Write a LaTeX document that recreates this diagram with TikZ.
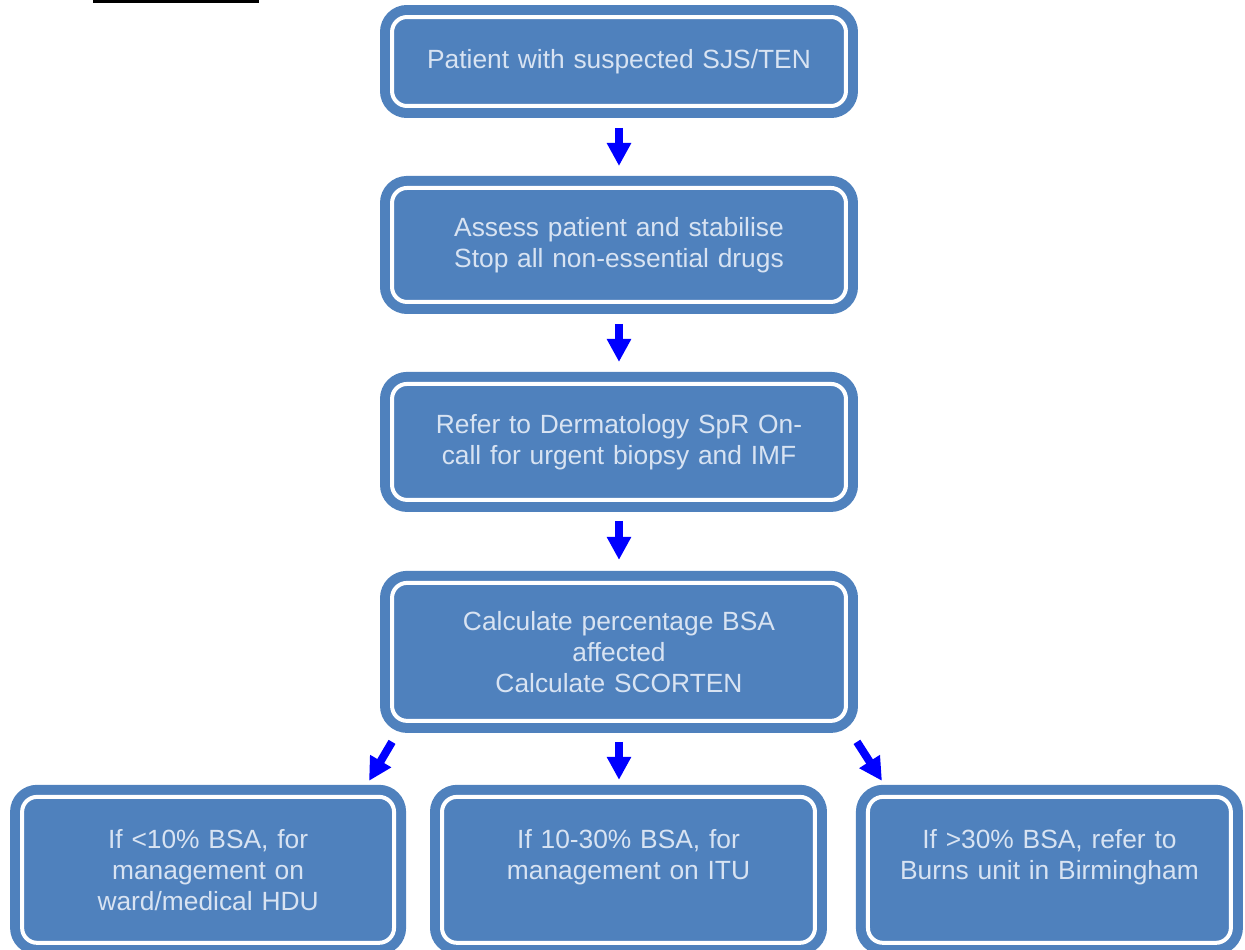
\documentclass[tikz,border=0pt]{standalone}
\usepackage{fontspec}
\setmainfont{Liberation Sans}
\usetikzlibrary{arrows.meta,positioning}
\definecolor{boxblue}{RGB}{79,129,189}
\definecolor{boxtext}{RGB}{216,227,242}
\tikzset{
flowbox/.style={
  rectangle,
  rounded corners=0.3cm,
  line width=0.2cm,
  draw=boxblue,
  double=white,
  double distance=0.08cm,
  fill=boxblue,
  inner sep=0pt,
  outer sep=0pt,
  align=center,
  text=boxtext,
  font=\fontsize{15pt}{17.6pt}\selectfont,
  }
}
\tikzset{
flowline/.style={
  line width=0.16cm,
  draw=blue,
  -{Triangle[width=0.46cm,length=0.46cm]}
  }
}

\begin{document}
\begin{tikzpicture}[x=0.02cm,y=-0.02cm]
    \useasboundingbox (0,0) rectangle (1245,950);
    \fill[black] (93,0) rectangle (259,3);

    % main column
    \node[flowbox, text width=9.08cm, minimum height=1.78cm] (suspect) at (619,61.5) {Patient with suspected SJS/TEN};
    \node[flowbox, text width=9.08cm, minimum height=2.28cm, below=1.64cm of suspect] (assess) {Assess patient and stabilise\\Stop all non-essential drugs};
    \node[flowbox, text width=9.08cm, minimum height=2.32cm, below=1.64cm of assess] (refer) {Refer to Dermatology SpR On-\\call for urgent biopsy and IMF};
    \node[flowbox, text width=9.08cm, minimum height=2.76cm, below=1.66cm of refer] (scorten) {Calculate percentage BSA\\affected\\Calculate SCORTEN};

    % outcome row
    \node[flowbox, text width=7.46cm, minimum height=2.92cm, below=1.52cm of scorten, xshift=0.19cm] (itu) {If 10-30\% BSA, for\\management on ITU\\~};
    \node[flowbox, text width=7.44cm, minimum height=2.92cm, left=0.96cm of itu] (ward) {If <10\% BSA, for\\management on\\ward/medical HDU};
    \node[flowbox, text width=7.26cm, minimum height=2.92cm, right=1.06cm of itu] (burns) {If >30\% BSA, refer to\\Burns unit in Birmingham\\~};

    % main edges
    \draw[flowline, shorten <=0.44cm, shorten >=0.44cm] (suspect) -- (assess);
    \draw[flowline, shorten <=0.44cm, shorten >=0.44cm] (assess) -- (refer);
    \draw[flowline, shorten <=0.42cm, shorten >=0.46cm] (refer) -- (scorten);

    % outcome edges
    \draw[flowline, shorten <=0.42cm, shorten >=0.34cm] (scorten.south) -- (scorten.south |- itu.north);
    \draw[flowline] ([yshift=-0.42cm]scorten.south west) -- ([xshift=-0.5cm,yshift=0.32cm]ward.north east);
    \draw[flowline] ([xshift=0.22cm,yshift=-0.42cm]scorten.south east) -- ([xshift=0.28cm,yshift=0.32cm]burns.north west);
\end{tikzpicture}
\end{document}
